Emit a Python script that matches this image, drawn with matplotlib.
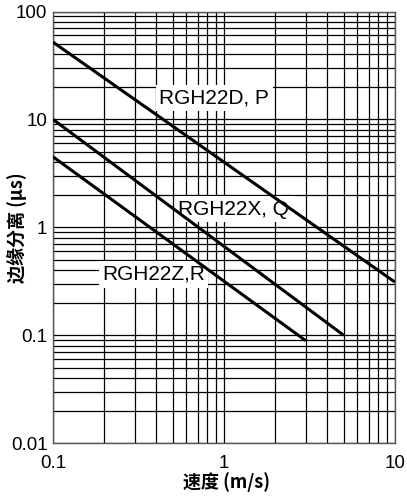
import numpy as np
import matplotlib
matplotlib.use('Agg')
import matplotlib.pyplot as plt
from matplotlib.ticker import LogLocator, NullFormatter, FixedLocator, FixedFormatter

plt.rcParams['font.family'] = ['Liberation Sans', 'Noto Sans CJK SC', 'DejaVu Sans']

# line endpoints (speed m/s, edge separation us)
series_names = ['RGH22D, P', 'RGH22X, Q', 'RGH22Z,R']
speed_d = [0.1, 10]
sep_d = [52, 0.31]
speed_x = [0.1, 5]
sep_x = [10, 0.1]
speed_z = [0.1, 3]
sep_z = [4.5, 0.089]

x_ticks = [0.1, 1, 10]
x_tick_labels = ['0.1', '1', '10']
y_ticks = [0.01, 0.1, 1, 10, 100]
y_tick_labels = ['0.01', '0.1', '1', '10', '100']

fig = plt.figure(figsize=(4.07, 4.98), dpi=100)
ax = fig.add_axes([53 / 407, 1 - 443 / 498, 342 / 407, 431.5 / 498])

for xs, ys in [(speed_d, sep_d), (speed_x, sep_x), (speed_z, sep_z)]:
    ax.plot(xs, ys, color='black', lw=2.2, solid_capstyle='butt', zorder=3)

ax.set_xscale('log')
ax.set_yscale('log')
ax.set_xlim(0.1, 10)
ax.set_ylim(0.01, 100)

ax.xaxis.set_major_locator(FixedLocator(x_ticks))
ax.xaxis.set_major_formatter(FixedFormatter(x_tick_labels))
ax.yaxis.set_major_locator(FixedLocator(y_ticks))
ax.yaxis.set_major_formatter(FixedFormatter(y_tick_labels))
ax.xaxis.set_minor_locator(LogLocator(base=10, subs=np.arange(2, 10)))
ax.yaxis.set_minor_locator(LogLocator(base=10, subs=np.arange(2, 10)))
ax.xaxis.set_minor_formatter(NullFormatter())
ax.yaxis.set_minor_formatter(NullFormatter())

ax.grid(True, which='both', color='black', lw=0.9, zorder=1)
ax.tick_params(which='both', length=0, labelsize=13.5)
ax.tick_params(axis='y', pad=4)
ax.tick_params(axis='x', pad=9)
for s in ax.spines.values():
    s.set_color('#555555')
    s.set_linewidth(1.0)

box = dict(facecolor='white', edgecolor='none', pad=2.5)
ax.text(0.875, 15.7, series_names[0], fontsize=15, ha='center', va='center', bbox=box, zorder=2.5)
ax.text(1.14, 1.47, series_names[1], fontsize=15, ha='center', va='center', bbox=box, zorder=2.5)
ax.text(0.387, 0.365, series_names[2], fontsize=15, ha='center', va='center', bbox=box, zorder=2.5)

ax.set_xlabel('速度 (m/s)', fontsize=13, fontweight='bold',
              family=['Noto Sans CJK SC', 'DejaVu Sans'])
ax.set_ylabel('边缘分离 (μs)', fontsize=13, fontweight='bold',
              family=['Noto Sans CJK SC', 'DejaVu Sans'])
ax.xaxis.set_label_coords((226 - 53) / 342, -(472 - 443) / 431.5)
ax.yaxis.set_label_coords(-(53 - 27) / 342, 0.5)

fig.savefig('out.png', dpi=100)
